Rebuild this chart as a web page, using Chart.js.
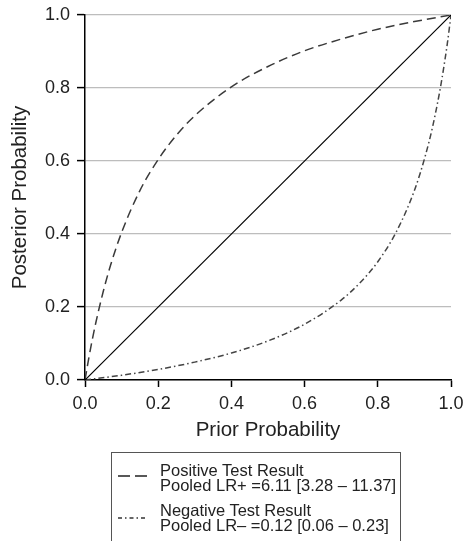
<!DOCTYPE html>
<html>
<head>
<meta charset="utf-8">
<script src="https://cdn.jsdelivr.net/npm/chart.js@4.4.1/dist/chart.umd.min.js"></script>
<style>
  html, body { margin: 0; padding: 0; background: #fff; overflow: hidden; }
  #wrap { position: relative; width: 464px; height: 541px; }
  #chart { position: absolute; left: 0; top: 0; }
  #legend {
    position: absolute; left: 111px; top: 452px; width: 290px; height: 120px;
    border: 1px solid #555; box-sizing: border-box;
    font-family: "Liberation Sans", Arial, sans-serif; font-size: 16.5px; color: #222;
  }
  .item { position: absolute; left: 0; }
  .item svg { position: absolute; left: 6px; top: 0; }
  .item .txt { position: absolute; left: 48px; line-height: 15px; white-space: nowrap; }
</style>
</head>
<body>
<div id="wrap">
  <canvas id="chart" width="464" height="541"></canvas>
  <div id="legend">
    <div class="item" style="top:10px">
      <svg width="30" height="30"><line x1="0" y1="13" x2="30" y2="13" stroke="#222" stroke-width="1.5" stroke-dasharray="12,5"/></svg>
      <div class="txt">Positive Test Result<br>Pooled LR+ =6.11 [3.28 – 11.37]</div>
    </div>
    <div class="item" style="top:50px">
      <svg width="30" height="30"><line x1="0" y1="15" x2="30" y2="15" stroke="#333" stroke-width="1.5" stroke-dasharray="4,3,1.5,3"/></svg>
      <div class="txt">Negative Test Result<br>Pooled LR– =0.12 [0.06 – 0.23]</div>
    </div>
  </div>
</div>
<script>
// Probabilité a priori / a posteriori
const priorPos = [0, 0.01, 0.02, 0.03, 0.05, 0.07, 0.1, 0.15, 0.2, 0.25, 0.3, 0.4, 0.5, 0.6, 0.7, 0.8, 0.9, 1];
const posteriorPos = [0, 0.058, 0.111, 0.159, 0.243, 0.315, 0.404, 0.519, 0.604, 0.671, 0.724, 0.803, 0.859, 0.902, 0.934, 0.961, 0.982, 1];

const priorNeg = [0, 0.1, 0.2, 0.3, 0.4, 0.5, 0.6, 0.7, 0.75, 0.8, 0.85, 0.9, 0.93, 0.95, 0.97, 0.98, 0.99, 1];
const posteriorNeg = [0, 0.013, 0.029, 0.049, 0.074, 0.107, 0.153, 0.219, 0.265, 0.324, 0.405, 0.519, 0.615, 0.695, 0.795, 0.855, 0.922, 1];

const diagX = [0, 1];
const diagY = [0, 1];

const axisTicks = [0, 0.2, 0.4, 0.6, 0.8, 1.0];

const toPoints = (xs, ys) => xs.map((x, i) => ({ x: x, y: ys[i] }));
const fontFamily = '"Liberation Sans", Arial, sans-serif';

// Les libellés aux extrémités ne doivent pas réduire la zone du graphique
function noEdgePadding(scale) {
    scale.paddingLeft = 0;
    scale.paddingRight = 0;
    scale.paddingTop = 0;
    scale.paddingBottom = 0;
}

const ctx = document.getElementById('chart');

new Chart(ctx, {
    type: 'scatter',
    data: {
        datasets: [
            {
                label: 'Référence',
                data: toPoints(diagX, diagY),
                showLine: true,
                borderColor: '#000',
                borderWidth: 1.2,
                pointRadius: 0
            },
            {
                label: 'Positive Test Result',
                data: toPoints(priorPos, posteriorPos),
                showLine: true,
                borderColor: '#3a3a3a',
                borderWidth: 1.5,
                borderDash: [9, 5],
                cubicInterpolationMode: 'monotone',
                pointRadius: 0
            },
            {
                label: 'Negative Test Result',
                data: toPoints(priorNeg, posteriorNeg),
                showLine: true,
                borderColor: '#444',
                borderWidth: 1.5,
                borderDash: [6, 3, 1.5, 3],
                cubicInterpolationMode: 'monotone',
                pointRadius: 0
            }
        ]
    },
    options: {
        responsive: false,
        animation: false,
        layout: {
            padding: { left: 4, top: 15, right: 13, bottom: 94 }
        },
        plugins: {
            legend: { display: false },
            tooltip: { enabled: false }
        },
        scales: {
            x: {
                type: 'linear',
                min: 0,
                max: 1,
                afterBuildTicks: (scale) => { scale.ticks = axisTicks.map(v => ({ value: v })); },
                afterFit: (scale) => { scale.height = 67; noEdgePadding(scale); },
                ticks: {
                    padding: 6,
                    color: '#222',
                    font: { family: fontFamily, size: 18 },
                    callback: (v) => Number(v).toFixed(1)
                },
                grid: {
                    drawOnChartArea: false,
                    drawTicks: true,
                    tickLength: 7,
                    tickColor: '#000',
                    tickWidth: 1.5
                },
                border: { color: '#000', width: 1.5 },
                title: {
                    display: true,
                    text: 'Prior Probability',
                    color: '#222',
                    font: { family: fontFamily, size: 20.5 },
                    padding: { top: 4, bottom: 4 }
                }
            },
            y: {
                type: 'linear',
                min: 0,
                max: 1,
                afterBuildTicks: (scale) => { scale.ticks = axisTicks.map(v => ({ value: v })); },
                afterFit: (scale) => { scale.width = 81; noEdgePadding(scale); },
                ticks: {
                    padding: 7,
                    color: '#222',
                    font: { family: fontFamily, size: 18 },
                    callback: (v) => Number(v).toFixed(1)
                },
                grid: {
                    color: '#bdbdbd',
                    lineWidth: 1.2,
                    drawTicks: true,
                    tickLength: 8,
                    tickColor: '#000',
                    tickWidth: 1.5
                },
                border: { color: '#000', width: 1.5 },
                title: {
                    display: true,
                    text: 'Posterior Probability',
                    color: '#222',
                    font: { family: fontFamily, size: 20.5 },
                    padding: { top: 4, bottom: 4 }
                }
            }
        }
    }
});
</script>
</body>
</html>
